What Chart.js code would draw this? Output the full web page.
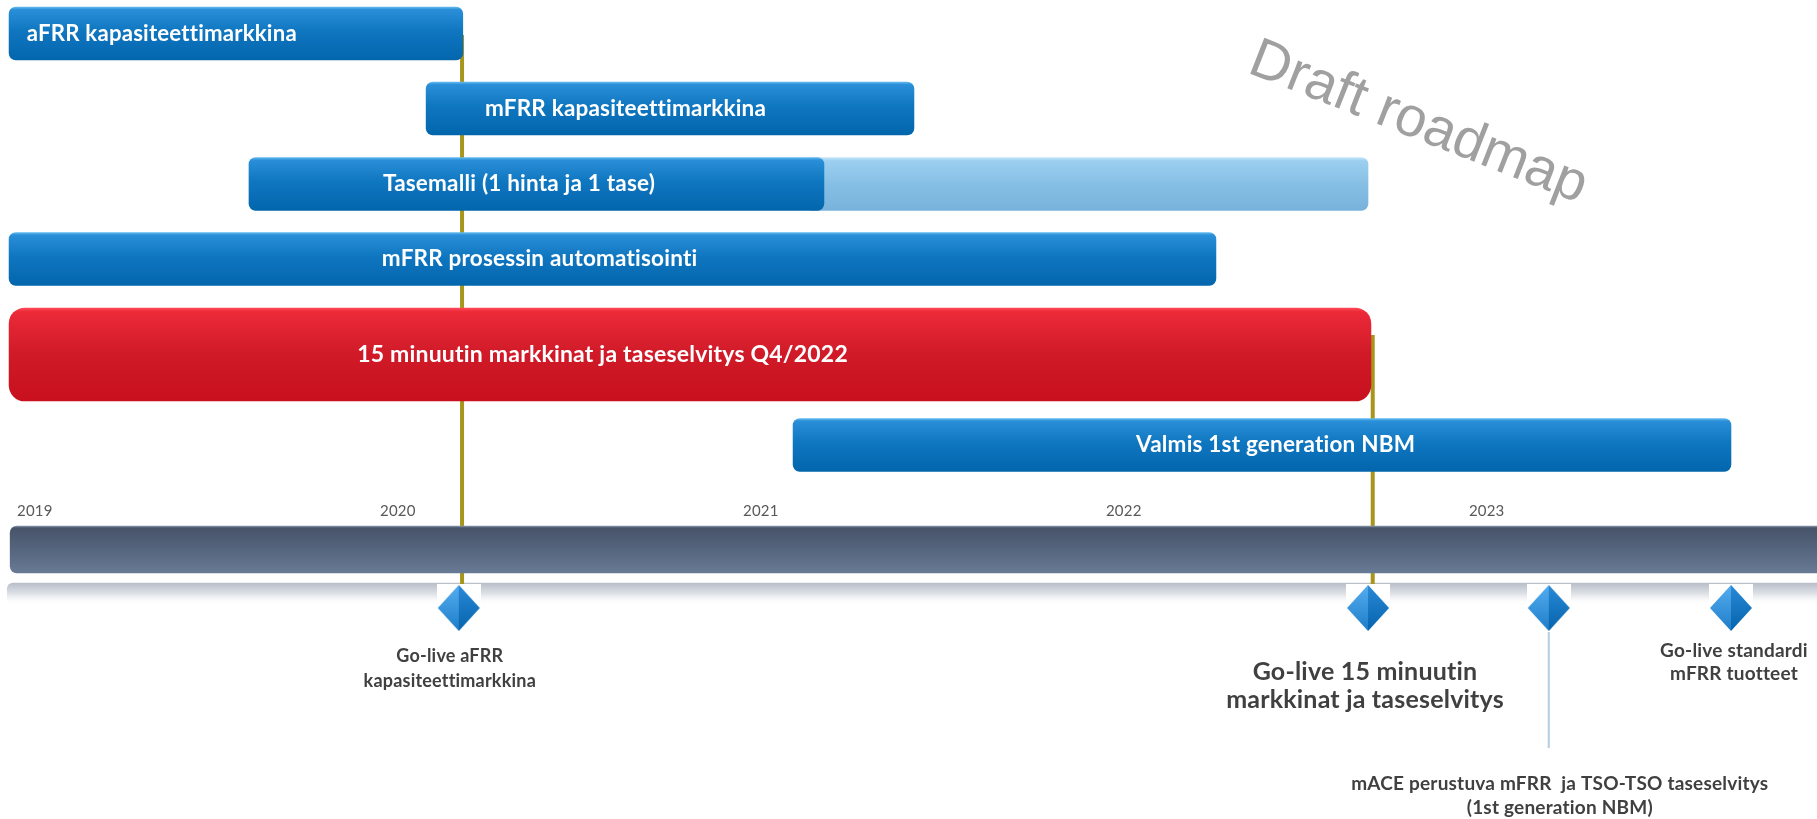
<!DOCTYPE html>
<html>
<head>
<meta charset="utf-8">
<script src="https://cdn.jsdelivr.net/npm/chart.js@4.4.0/dist/chart.umd.min.js"></script>
<style>
  html, body { margin: 0; padding: 0; background: #ffffff; }
  #wrap { width: 1817px; height: 819px; position: relative; }
</style>
</head>
<body>
<div id="wrap"><canvas id="c" width="1817" height="819"></canvas></div>
<script>
// ---------------- DATA ----------------
const yearTicks = [2019, 2020, 2021, 2022, 2023];

const taskNames = [
  'aFRR kapasiteettimarkkina',
  'mFRR kapasiteettimarkkina',
  'Tasemalli (1 hinta ja 1 tase)',
  'mFRR prosessin automatisointi',
  '15 minuutin markkinat ja taseselvitys Q4/2022',
  'Valmis 1st generation NBM'
];
const taskStart = [2018.978, 2020.127, 2019.639, 2018.978, 2018.978, 2021.138];
const taskEnd   = [2020.228, 2021.471, 2021.223, 2022.303, 2022.730, 2023.722];
const tasemalliExtensionEnd = 2022.722;   // lighter continuation of "Tasemalli"

const milestoneNames = [
  ['Go-live aFRR', 'kapasiteettimarkkina'],
  ['Go-live 15 minuutin', 'markkinat ja taseselvitys'],
  ['mACE perustuva mFRR  ja TSO-TSO taseselvitys', '(1st generation NBM)'],
  ['Go-live standardi', 'mFRR tuotteet']
];
const milestoneDates = [2020.217, 2022.722, 2023.220, 2023.722];
const goLiveLineDates = [2020.226, 2022.735];

const watermark = 'Draft roadmap';

// ---------------- LAYOUT (positions / sizes / styles) ----------------
const X_MIN = 2018.953, X_MAX = 2023.959;
const laneY = [33.5, 108.5, 184, 259, 354.5, 445];
const laneRole = ['blue', 'blue', 'blue', 'blue', 'red', 'blue'];
const BAR_H = 53, RED_H = 93;
const TIMELINE_Y = 549.5, TIMELINE_H = 47;
const REFLECT_Y = 594, REFLECT_H = 22;
const DIAMOND_Y = 608;
const goLiveLineTop = [35, 335], goLiveLineBottom = 586;
const labelAnchorYear = [2019.027, 2020.289, 2020.008, 2020.005, 2019.937, 2022.083];
const labelFont = [22.2, 22.5, 22.5, 22.5, 23, 22.5];
const msOffsetX = [-9, -3, 11, 3];
const msLineY = [[656, 681], [672, 700], [784, 808], [651, 674]];
const msFont = [18, 25, 19, 19];
const mACEIndex = 2, mACELineBottom = 748;

const FONT = 'Lato, "Open Sans", "Noto Sans", sans-serif';

const blueStops  = [[0, '#62b9ef'], [0.05, '#2a8fd8'], [0.45, '#0f76c0'], [1, '#0366ad']];
const lightStops = [[0, '#c4e6fa'], [0.06, '#9ccff0'], [0.5, '#86bfe4'], [1, '#78b2dc']];
const redStops   = [[0, '#ff4a58'], [0.04, '#ec2a38'], [0.5, '#d01a28'], [1, '#c8101e']];
const greyStops  = [[0, '#8796ab'], [0.04, '#47546a'], [0.5, '#56657e'], [1, '#687a94']];
const reflStops  = [[0, '#b8bec9'], [0.5, '#dfe2e7'], [1, 'rgba(255,255,255,0)']];

function vGrad(chart, yc, h, stops) {
  const g = chart.ctx.createLinearGradient(0, yc - h / 2, 0, yc + h / 2);
  stops.forEach(s => g.addColorStop(s[0], s[1]));
  return g;
}
function gradFill(stops, h, fallback) {
  return (c) => {
    const ch = c.chart;
    if (!ch.chartArea || !c.raw || c.raw.y === undefined) return fallback;
    const yc = ch.scales.y.getPixelForValue(c.raw.y);
    return vGrad(ch, yc, h, stops);
  };
}

// diamond marker image
function makeDiamond() {
  const w = 44, h = 48;
  const cv = document.createElement('canvas');
  cv.width = w; cv.height = h;
  const x = cv.getContext('2d');
  x.fillStyle = '#ffffff';
  x.fillRect(0, 0, w, h);
  let g = x.createLinearGradient(0, 0, 0, h);
  g.addColorStop(0, '#55aef0'); g.addColorStop(1, '#1d7cc8');
  x.fillStyle = g;
  x.beginPath(); x.moveTo(22, 1); x.lineTo(1, 24); x.lineTo(22, 47); x.closePath(); x.fill();
  g = x.createLinearGradient(0, 0, 0, h);
  g.addColorStop(0, '#2a8ad8'); g.addColorStop(1, '#0563ab');
  x.fillStyle = g;
  x.beginPath(); x.moveTo(22, 1); x.lineTo(43, 24); x.lineTo(22, 47); x.closePath(); x.fill();
  return cv;
}
const diamondImg = makeDiamond();

// ---------------- DATASETS ----------------
const blueIdx = laneRole.map((r, i) => r === 'blue' ? i : -1).filter(i => i >= 0);
const redIdx = laneRole.map((r, i) => r === 'red' ? i : -1).filter(i => i >= 0);
const tasemalliIdx = 2;

const barCommon = {
  type: 'bar', indexAxis: 'y', grouped: false, borderSkipped: false, borderWidth: 0
};

const datasets = [
  Object.assign({}, barCommon, {
    label: 'reflection', order: 9, barThickness: REFLECT_H, borderRadius: 6,
    data: [{ x: [taskStart[0] - 0.005, X_MAX + 0.2], y: REFLECT_Y }],
    backgroundColor: gradFill(reflStops, REFLECT_H, '#dde0e5')
  }),
  {
    type: 'line', label: 'go-live lines', order: 8,
    data: goLiveLineDates.flatMap((d, i) => [{ x: d, y: goLiveLineTop[i] }, { x: d, y: goLiveLineBottom }, { x: null, y: null }]),
    borderColor: '#a8961c', borderWidth: 4, pointRadius: 0, spanGaps: false, tension: 0
  },
  Object.assign({}, barCommon, {
    label: 'Tasemalli extension', order: 7, barThickness: BAR_H, borderRadius: 7,
    data: [{ x: [taskEnd[tasemalliIdx] - 0.05, tasemalliExtensionEnd], y: laneY[tasemalliIdx] }],
    backgroundColor: gradFill(lightStops, BAR_H, '#86bfe4')
  }),
  Object.assign({}, barCommon, {
    label: 'tasks', order: 6, barThickness: BAR_H, borderRadius: 7,
    data: blueIdx.map(i => ({ x: [taskStart[i], taskEnd[i]], y: laneY[i] })),
    backgroundColor: gradFill(blueStops, BAR_H, '#0f76c0')
  }),
  Object.assign({}, barCommon, {
    label: 'main task', order: 5, barThickness: RED_H, borderRadius: 16,
    data: redIdx.map(i => ({ x: [taskStart[i], taskEnd[i]], y: laneY[i] })),
    backgroundColor: gradFill(redStops, RED_H, '#d01a28')
  }),
  Object.assign({}, barCommon, {
    label: 'timeline', order: 4, barThickness: TIMELINE_H, borderRadius: 7,
    data: [{ x: [taskStart[0] + 0.003, X_MAX + 0.2], y: TIMELINE_Y }],
    backgroundColor: gradFill(greyStops, TIMELINE_H, '#56657e')
  }),
  {
    type: 'line', label: 'mACE line', order: 3,
    data: [{ x: milestoneDates[mACEIndex], y: DIAMOND_Y }, { x: milestoneDates[mACEIndex], y: mACELineBottom }],
    borderColor: '#b4cde6', borderWidth: 2, pointRadius: 0
  },
  {
    type: 'scatter', label: 'milestones', order: 0,
    data: milestoneDates.map(d => ({ x: d, y: DIAMOND_Y })),
    pointStyle: diamondImg, pointRadius: 22, pointHoverRadius: 22
  }
];

// ---------------- TEXT PLUGIN ----------------
const textPlugin = {
  id: 'texts',
  afterDatasetsDraw(chart) {
    const ctx = chart.ctx, xs = chart.scales.x, ys = chart.scales.y;
    ctx.save();
    try { ctx.letterSpacing = '0.2px'; } catch (e) {}
    ctx.textBaseline = 'middle';
    ctx.textAlign = 'left';
    ctx.fillStyle = '#ffffff';
    taskNames.forEach((t, i) => {
      ctx.font = 'bold ' + labelFont[i] + 'px ' + FONT;
      ctx.fillText(t, xs.getPixelForValue(labelAnchorYear[i]), ys.getPixelForValue(laneY[i]));
    });
    ctx.font = '15px ' + FONT;
    ctx.fillStyle = '#595959';
    yearTicks.forEach(y => ctx.fillText(String(y), xs.getPixelForValue(y), 511));
    ctx.textAlign = 'center';
    ctx.fillStyle = '#404040';
    milestoneNames.forEach((lines, i) => {
      ctx.font = 'bold ' + msFont[i] + 'px ' + FONT;
      const cx = xs.getPixelForValue(milestoneDates[i]) + msOffsetX[i];
      lines.forEach((ln, j) => ctx.fillText(ln, cx, msLineY[i][j]));
    });
    try { ctx.letterSpacing = '0px'; } catch (e) {}
    ctx.translate(1246, 72);
    ctx.rotate(21.5 * Math.PI / 180);
    ctx.font = '56px "Liberation Sans", Arial, sans-serif';
    ctx.fillStyle = '#a0a0a0';
    ctx.textAlign = 'left';
    ctx.textBaseline = 'alphabetic';
    ctx.fillText(watermark, 0, 0);
    ctx.restore();
  }
};

new Chart(document.getElementById('c'), {
  type: 'bar',
  data: { datasets },
  options: {
    responsive: false,
    animation: false,
    devicePixelRatio: 1,
    layout: { padding: 0, autoPadding: false },
    plugins: { legend: { display: false }, tooltip: { enabled: false } },
    scales: {
      x: { type: 'linear', min: X_MIN, max: X_MAX, display: false, offset: false, grid: { offset: false } },
      y: { type: 'linear', min: 0, max: 819, reverse: true, display: false, offset: false, grid: { offset: false } }
    }
  },
  plugins: [textPlugin]
});
</script>
</body>
</html>
